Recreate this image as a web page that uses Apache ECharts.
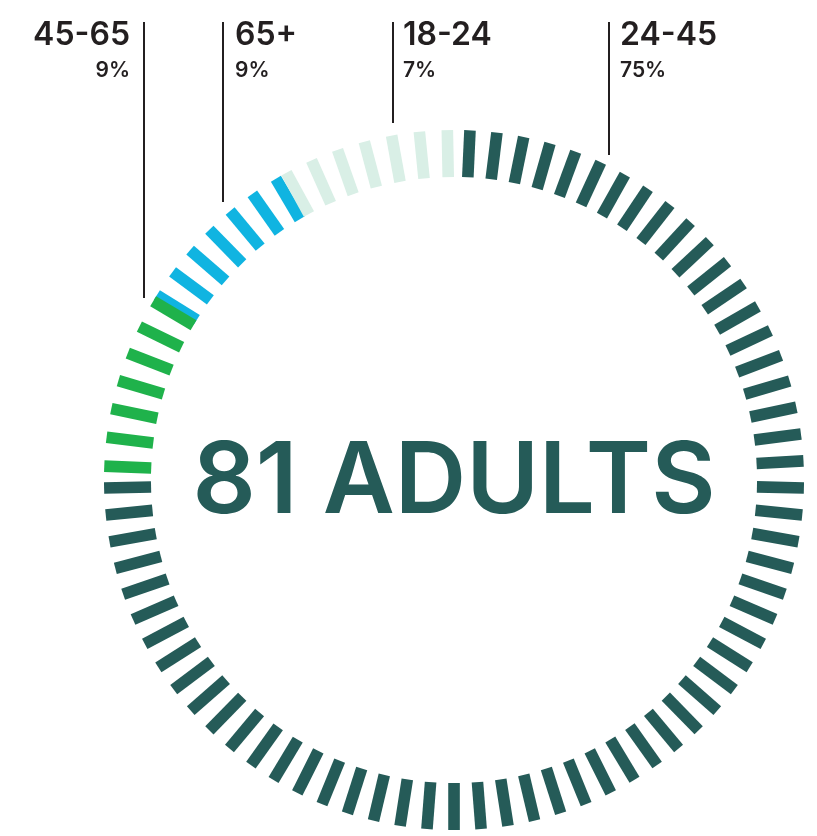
<!DOCTYPE html>
<html>
<head>
<meta charset="utf-8">
<script src="https://cdn.jsdelivr.net/npm/echarts/dist/echarts.min.js"></script>
<style>
html,body{margin:0;padding:0;background:#fff;}
#chart{width:817px;height:836px;}
</style>
</head>
<body>
<div id="chart"></div>
<script>
// ---- data ----
const groups = ['24-45', '45-65', '65+', '18-24'];
const shares = ['75%', '9%', '9%', '7%'];
const tickCounts = [61, 7, 7, 7];
// arc of each group, degrees clockwise from 12 o'clock
const arcFrom = [0.4, 269.9, 299.6, 329.1];
const arcTo = [270.9, 303.1, 331.7, 361.2];
const centerTitle = '81 ADULTS';

// ---- styles / layout ----
const colors = ['#255b58', '#1fb24b', '#10b4e1', '#d9efe6'];
const drawOrder = [0, 2, 1, 3];
const rInner = 303, rOuter = 350, tickHalfWidth = 5.8;
const FONT = 'Inter, "Liberation Sans", Arial, sans-serif';
const labelLayout = {
  '45-65': { x: 130, lineX: 144, lineEnd: 298, align: 'right' },
  '65+':   { x: 235, lineX: 223, lineEnd: 202, align: 'left' },
  '18-24': { x: 403, lineX: 393, lineEnd: 123, align: 'left' },
  '24-45': { x: 620, lineX: 609, lineEnd: 155, align: 'left' }
};

const ticks = [];
drawOrder.forEach(g => {
  const step = (arcTo[g] - arcFrom[g]) / tickCounts[g];
  for (let k = 0; k < tickCounts[g]; k++) {
    let a = arcFrom[g] + step * (k + 0.5);
    if (a >= 360) a -= 360;
    ticks.push([a, g]);
  }
});

const graphics = [];
groups.forEach((name, i) => {
  const L = labelLayout[name];
  graphics.push({
    type: 'line', z: 100,
    shape: { x1: L.lineX, y1: 22, x2: L.lineX, y2: L.lineEnd },
    style: { stroke: '#231f20', lineWidth: 2 }
  });
  graphics.push({
    type: 'text', z: 100, x: L.x, y: 35,
    style: { text: name, fill: '#231f20', font: '600 32px ' + FONT,
      textAlign: L.align, textVerticalAlign: 'middle' }
  });
  graphics.push({
    type: 'text', z: 100, x: L.x, y: 71,
    style: { text: shares[i], fill: '#231f20', font: '600 21px ' + FONT,
      textAlign: L.align, textVerticalAlign: 'middle' }
  });
});
graphics.push({
  type: 'text', z: 100, x: 454, y: 483,
  style: { text: centerTitle, fill: '#255b58', font: '600 99px ' + FONT,
    textAlign: 'center', textVerticalAlign: 'middle' }
});

const chart = echarts.init(document.getElementById('chart'), null, { renderer: 'canvas' });
chart.setOption({
  animation: false,
  backgroundColor: '#ffffff',
  polar: { center: [454, 480], radius: rOuter },
  angleAxis: { type: 'value', min: 0, max: 360, startAngle: 90, clockwise: true, show: false },
  radiusAxis: { type: 'value', min: 0, max: rOuter, show: false },
  series: [{
    type: 'custom',
    coordinateSystem: 'polar',
    data: ticks,
    encode: { angle: 0, radius: 1 },
    renderItem: function (params, api) {
      const a = api.value(0), g = api.value(1);
      const p1 = api.coord([rInner, a]);
      const p2 = api.coord([rOuter, a]);
      let dx = p2[0] - p1[0], dy = p2[1] - p1[1];
      const len = Math.sqrt(dx * dx + dy * dy);
      dx /= len; dy /= len;
      const nx = -dy * tickHalfWidth, ny = dx * tickHalfWidth;
      return {
        type: 'polygon',
        shape: { points: [
          [p1[0] + nx, p1[1] + ny], [p2[0] + nx, p2[1] + ny],
          [p2[0] - nx, p2[1] - ny], [p1[0] - nx, p1[1] - ny]
        ] },
        style: { fill: colors[g] }
      };
    }
  }],
  graphic: graphics
});
</script>
</body>
</html>
